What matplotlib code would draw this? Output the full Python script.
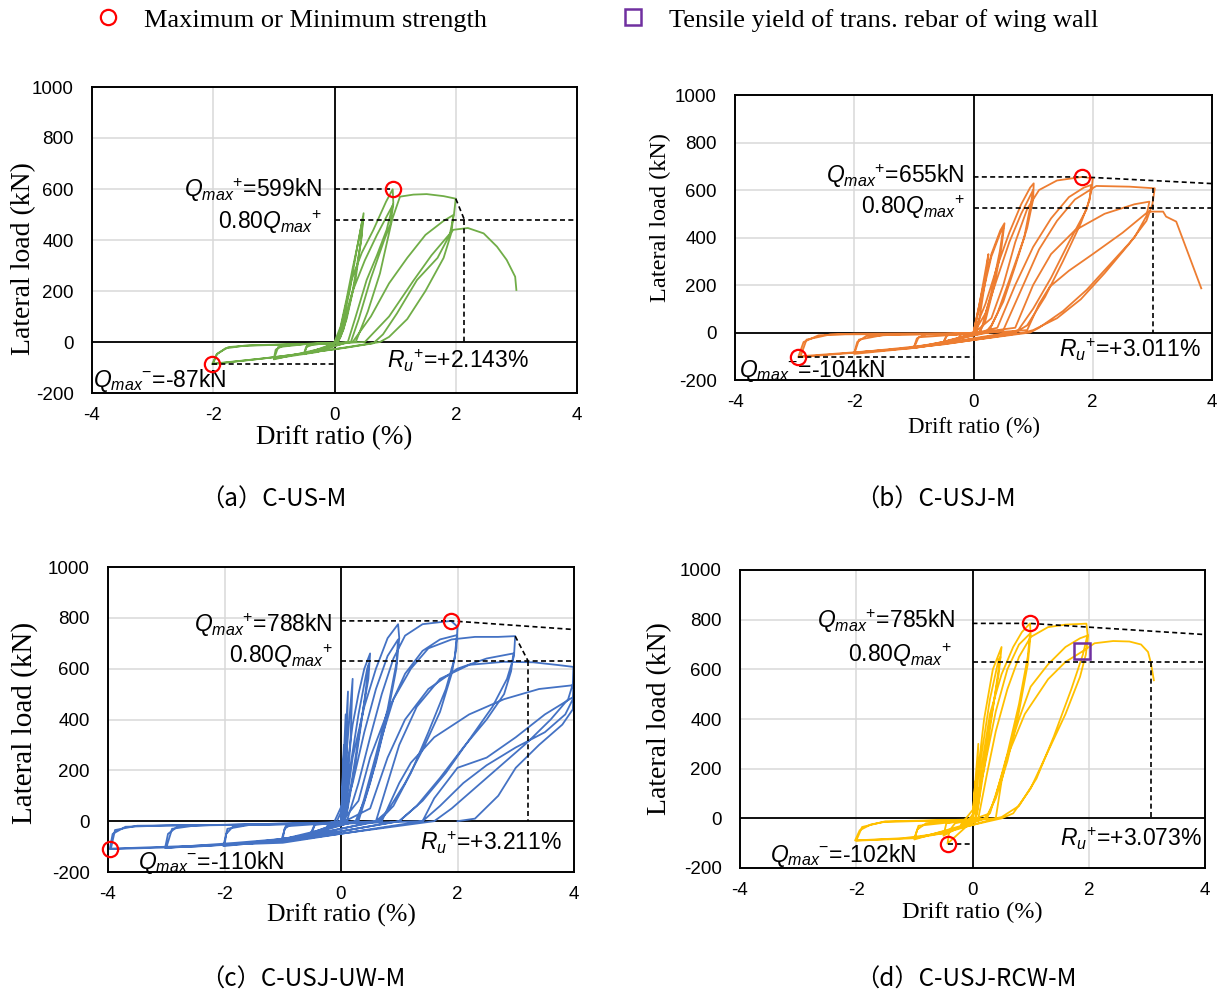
import matplotlib.pyplot as plt
from matplotlib.lines import Line2D

plt.rcParams['font.family'] = ['Liberation Sans', 'DejaVu Sans']
plt.rcParams['axes.unicode_minus'] = False
plt.rcParams['mathtext.fontset'] = 'custom'
plt.rcParams['mathtext.rm'] = 'Liberation Sans'
plt.rcParams['mathtext.it'] = 'Liberation Sans:italic'

# ---- data: drift ratio (%) / lateral load (kN) ----
drift_ticks = [-4, -2, 0, 2, 4]
load_ticks = [-200, 0, 200, 400, 600, 800, 1000]

# (a) C-US-M
a_x = [0, 0.1, 0.2, 0.3, 0.4, 0.48, 0.45, 0.35, 0.2, 0.1, 0.05, -0.2, -0.5, -0.47, -0.35, 0,
       0.1, 0.25, 0.38, 0.47, 0.44, 0.3, 0.15, 0.06, -0.5, -0.45, 0,
       0.05, 0.28, 0.45, 0.64, 0.85, 0.96, 0.97, 0.86, 0.7, 0.53, 0.35, 0.22, -0.3, -1.0, -0.97, -0.85, -0.5, 0,
       0.08, 0.3, 0.5, 0.7, 0.9, 0.97, 0.92, 0.82, 0.6, 0.4, 0.27, -1.0, -0.93, -0.5, 0,
       0.35, 0.55, 0.75, 0.95, 1.08, 1.3, 1.52, 1.8, 2.0, 1.97, 1.9, 1.7, 1.36, 1.03, 0.8, 0.64, 0.2, -0.5, -1.2, -2.0,
       -1.95, -1.8, -1.5, -0.8, 0,
       0.3, 0.6, 0.9, 1.2, 1.5, 1.8, 1.96, 1.93, 1.8, 1.5, 1.2, 0.9, 0.75, 0, -1.0, -2.02, -1.93, -1.75, -1.4, -0.8, 0,
       0.5, 0.9, 1.3, 1.6, 1.85, 1.96, 2.2, 2.46, 2.68, 2.84, 2.98, 3.0]
a_y = [0, 60, 170, 290, 400, 505, 420, 250, 90, 20, 0, -25, -45, -20, -10, -3,
       40, 200, 380, 490, 400, 200, 50, 0, -48, -12, -3,
       0, 243, 350, 439, 550, 599, 545, 440, 340, 243, 100, 0, -40, -65, -30, -15, -8, -3,
       20, 200, 320, 420, 510, 540, 460, 400, 250, 90, 0, -68, -20, -9, -4,
       0, 120, 269, 480, 570, 578, 580, 572, 562, 500, 420, 330, 243, 112, 30, -5, -22, -45, -65, -85,
       -50, -25, -15, -10, -5,
       0, 100, 230, 330, 420, 475, 498, 430, 330, 200, 90, 20, 0, -28, -60, -87, -45, -20, -13, -9, -5,
       0, 100, 240, 340, 410, 440, 447, 426, 374, 322, 256, 204]

# (b) C-USJ-M
b_x = [0, 0.1, 0.2, 0.25, 0.2, 0.1, 0.05, -0.25, -0.2, 0,
       0.15, 0.3, 0.45, 0.52, 0.47, 0.35, 0.2, 0.1, -0.5, -0.45, 0,
       0.15, 0.3, 0.45, 0.5, 0.44, 0.3, 0.15, 0.1, -0.5, -0.44, 0,
       0.2, 0.4, 0.6, 0.8, 0.95, 1.01, 1.0, 0.9, 0.7, 0.5, 0.3, 0.2, -0.4, -1.0, -0.95, -0.8, 0,
       0.2, 0.4, 0.6, 0.8, 0.98, 1.0, 0.96, 0.85, 0.6, 0.4, 0.25, -1.0, -0.92, 0,
       0.3, 0.5, 0.7, 0.9, 1.1, 1.4, 1.82, 2.0, 1.98, 1.9, 1.6, 1.3, 1.0, 0.75, 0.6, -0.5, -1.2, -2.0, -1.95, -1.8, -1.2, 0,
       0.4, 0.7, 1.0, 1.3, 1.6, 1.85, 1.97, 1.95, 1.8, 1.5, 1.2, 0.9, 0.7, -1.0, -2.0, -1.92, -1.5, 0,
       0.5, 0.8, 1.1, 1.4, 1.7, 2.06, 2.62, 3.04, 3.0, 2.9, 2.6, 2.2, 1.8, 1.4, 1.0, 0.85, -0.5, -1.5, -2.94,
       -2.85, -2.6, -2.0, 0,
       0.7, 1.0, 1.3, 1.7, 2.2, 2.7, 2.95, 2.9, 2.7, 2.3, 1.9, 1.5, 1.1, 0.95, -1.0, -2.9, -2.8, -2.4, 0,
       0.9, 1.1, 1.28, 1.6, 2.0, 2.5, 2.93, 3.18, 3.23, 3.4, 3.82]
b_y = [0, 120, 260, 330, 220, 60, 0, -22, -6, 0,
       180, 330, 430, 460, 360, 200, 50, 0, -38, -12, -2,
       160, 320, 420, 440, 340, 170, 30, 0, -40, -10, -2,
       120, 280, 420, 540, 610, 628, 560, 440, 280, 130, 30, 0, -35, -62, -25, -8, -3,
       80, 230, 380, 500, 590, 600, 540, 400, 220, 80, 0, -65, -20, -4,
       60, 200, 380, 520, 600, 640, 655, 649, 600, 520, 380, 230, 100, 10, 0, -45, -65, -85, -40, -15, -8, -5,
       20, 200, 360, 480, 570, 610, 621, 560, 460, 300, 150, 30, 0, -65, -90, -30, -10, -5,
       10, 180, 350, 470, 560, 617, 614, 607, 540, 470, 370, 250, 140, 60, 10, 0, -50, -75, -104,
       -40, -12, -5, -3,
       20, 200, 330, 430, 500, 540, 551, 490, 400, 290, 180, 90, 20, 0, -65, -100, -30, -8, -5,
       10, 120, 193, 260, 330, 420, 509, 509, 488, 467, 186]

# (c) C-USJ-UW-M
c_x = [0, 0.05, 0.03, -0.1, 0, 0.08, 0.05, -0.15, 0, 0.12, 0.08, 0.02, -0.25, -0.22, 0,
       0.2, 0.16, 0.06, -0.25, -0.2, 0,
       0.1, 0.2, 0.3, 0.4, 0.5, 0.47, 0.35, 0.2, 0.1, 0.05, -0.5, -0.45, 0,
       0.15, 0.3, 0.45, 0.48, 0.4, 0.25, 0.1, 0.06, -0.52, -0.45, 0,
       0.05, 0.2, 0.4, 0.6, 0.8, 0.98, 1.0, 0.95, 0.8, 0.6, 0.4, 0.25, -0.5, -1.0, -0.97, -0.85, 0,
       0.2, 0.4, 0.6, 0.8, 0.98, 0.95, 0.8, 0.6, 0.4, 0.28, -1.02, -0.95, 0,
       0.1, 0.3, 0.5, 0.7, 0.9, 1.1, 1.4, 1.89, 2.0, 1.98, 1.9, 1.7, 1.4, 1.1, 0.8, 0.6, -0.5, -1.2, -2.0,
       -1.97, -1.85, -1.5, 0,
       0.3, 0.5, 0.8, 1.1, 1.4, 1.7, 1.99, 1.95, 1.8, 1.5, 1.2, 0.9, 0.65, -1.0, -2.02, -1.95, -1.5, 0,
       0.3, 0.5, 0.7, 0.9, 1.2, 1.5, 1.9, 2.3, 2.7, 2.99, 2.97, 2.85, 2.6, 2.2, 1.8, 1.4, 1.0, -0.5, -1.8, -3.02,
       -2.97, -2.8, -2.2, 0,
       0.5, 0.8, 1.1, 1.5, 2.0, 2.5, 2.96, 2.92, 2.8, 2.5, 2.1, 1.7, 1.3, 1.0, -1.0, -3.0, -2.9, -2.5, 0,
       0.6, 0.8, 1.0, 1.3, 1.7, 2.2, 2.8, 3.3, 3.7, 3.99, 3.98, 3.9, 3.6, 3.2, 2.8, 2.3, 1.9, 1.6, -1.0, -2.5,
       -3.97, -3.92, -3.7, -3.0, 0,
       0.7, 1.0, 1.2, 1.6, 2.2, 2.8, 3.4, 3.99, 3.98, 3.85, 3.5, 3.0, 2.5, 2.1, 1.7, 1.4, -1.0, -3.95, -3.88,
       -3.5, 0,
       1.4, 1.6, 2.0, 2.5, 3.0, 3.5, 3.99, 3.98, 3.8, 3.4, 3.0, 2.7, 2.3, 2.0]
c_y = [0, 300, 50, -15, 0, 420, 80, -20, 0, 510, 100, 0, -30, -8, 0,
       560, 300, 0, -32, -8, -1,
       200, 380, 500, 600, 660, 560, 400, 180, 40, 0, -45, -15, -3,
       200, 420, 600, 620, 470, 230, 30, 0, -48, -12, -3,
       0, 250, 450, 600, 720, 775, 720, 600, 420, 230, 80, 0, -50, -70, -30, -12, -5,
       150, 350, 520, 650, 715, 620, 440, 260, 90, 0, -72, -20, -5,
       0, 150, 330, 500, 640, 730, 775, 788, 765, 680, 580, 430, 280, 150, 40, 0, -55, -75, -95,
       -50, -20, -12, -5,
       80, 250, 430, 580, 670, 715, 732, 640, 520, 350, 190, 60, 0, -75, -98, -30, -12, -5,
       0, 150, 330, 480, 600, 680, 715, 725, 725, 728, 650, 560, 450, 320, 190, 80, 0, -60, -85, -105,
       -50, -20, -15, -8,
       50, 250, 400, 520, 600, 640, 660, 590, 500, 400, 290, 170, 60, 0, -80, -105, -30, -17, -8,
       0, 150, 300, 450, 560, 615, 627, 625, 615, 607, 540, 480, 400, 310, 230, 130, 50, 0, -80, -100,
       -110, -50, -22, -17, -10,
       0, 150, 230, 330, 420, 480, 520, 535, 480, 420, 350, 290, 220, 150, 60, 0, -85, -108, -35,
       -18, -10,
       0, 90, 210, 250, 330, 420, 489, 440, 380, 300, 210, 100, 10, 0]

# (d) C-USJ-RCW-M
d_x = [0, 0.05, 0.02, -0.1, 0, 0.1, 0.06, -0.2, 0,
       0.1, 0.2, 0.35, 0.5, 0.45, 0.3, 0.15, 0.08, 0.05, -0.43, -0.4, -0.3, 0,
       0.15, 0.3, 0.45, 0.48, 0.4, 0.25, 0.1, 0.05, -0.5, -0.45, 0,
       0.05, 0.15, 0.3, 0.5, 0.7, 0.85, 0.99, 1.0, 0.95, 0.8, 0.6, 0.4, 0.25, 0.2, -0.5, -1.0, -0.95, -0.8, -0.5, 0,
       0.2, 0.4, 0.6, 0.8, 0.99, 0.95, 0.8, 0.6, 0.4, 0.25, -1.0, -0.93, 0,
       0.1, 0.25, 0.4, 0.6, 0.8, 1.0, 1.3, 1.6, 1.96, 1.98, 1.9, 1.7, 1.4, 1.1, 0.8, 0.5, 0.4, -0.5, -1.2, -2.02,
       -1.94, -1.75, -1.53, -0.8, 0,
       0.3, 0.53, 0.59, 0.8, 1.0, 1.3, 1.6, 1.85, 1.99, 1.95, 1.85, 1.6, 1.3, 1.0, 0.7, 0.5, -1.0, -2.0, -1.9,
       -1.5, 0,
       0.4, 0.5, 0.6, 0.9, 1.3, 1.6, 1.89, 2.1, 2.42, 2.7, 2.9, 3.02, 3.07, 3.12]
d_y = [0, 150, 20, -15, 0, 300, 50, -25, 0,
       200, 400, 600, 690, 580, 380, 150, 20, 0, -102, -50, -20, -5,
       250, 480, 640, 650, 520, 280, 50, 0, -70, -20, -5,
       0, 200, 420, 580, 690, 750, 785, 740, 620, 430, 230, 80, 10, 0, -60, -80, -45, -20, -12, -5,
       200, 430, 600, 700, 744, 650, 460, 260, 90, 0, -85, -30, -6,
       0, 180, 350, 520, 650, 730, 770, 780, 784, 740, 660, 520, 330, 160, 50, 5, 0, -60, -80, -89,
       -48, -25, -15, -10, -5,
       20, 193, 247, 400, 530, 620, 690, 725, 737, 660, 570, 420, 270, 120, 20, 0, -80, -90, -35,
       -12, -5,
       0, 150, 250, 420, 560, 630, 672, 705, 714, 712, 700, 670, 625, 556]

# characteristic points: (drift, load)
a_qmax, a_qmin, a_ru, a_drop = (0.96, 599), (-2.02, -87), 2.143, (2.0, 562)
b_qmax, b_qmin, b_ru, b_drop = (1.82, 655), (-2.94, -104), 3.011, (3.011, 607)
c_qmax, c_qmin, c_ru, c_drop = (1.89, 788), (-3.97, -110), 3.211, (2.99, 728)
d_qmax, d_qmin, d_ru, d_drop = (0.99, 785), (-0.43, -102), 3.073, (3.073, 628)
b_env_end = (4.0, 627)
c_env_end = (4.0, 754)
d_env_end = (4.0, 740)
d_yield = (1.89, 672)

W, H = 1228, 996
fig = plt.figure(figsize=(W / 100, H / 100), dpi=100)


def axes_px(l, t, r, b):
    return fig.add_axes([l / W, 1 - b / H, (r - l) / W, (b - t) / H])


def base(ax, ylab_size, xlab_size, ylab_pos, xlab_pos):
    ax.set_xlim(-4, 4)
    ax.set_ylim(-200, 1000)
    ax.set_xticks(drift_ticks)
    ax.set_yticks(load_ticks)
    ax.grid(True, color='#d9d9d9', lw=1.1)
    ax.set_axisbelow(True)
    ax.axhline(0, color='black', lw=1.3, zorder=1.5)
    ax.axvline(0, color='black', lw=1.3, zorder=1.5)
    for s in ax.spines.values():
        s.set_linewidth(1.4)
    ax.tick_params(length=0, labelsize=13.5)
    ax.tick_params(axis='y', pad=13)
    ax.tick_params(axis='x', pad=10)
    ax.set_ylabel('Lateral load (kN)', family='Liberation Serif', fontsize=ylab_size)
    ax.set_xlabel('Drift ratio (%)', family='Liberation Serif', fontsize=xlab_size)
    ax.yaxis.set_label_coords(*ylab_pos)
    ax.xaxis.set_label_coords(*xlab_pos)


def dashed(ax, xs, ys):
    ax.plot(xs, ys, color='black', lw=1.2, ls=(0, (3, 2)), zorder=3)


def circle(ax, pt):
    ax.plot(pt[0], pt[1], 'o', mfc='none', mec='red', ms=11, mew=1.6, zorder=5, clip_on=False)


def note(ax, x, y, s, ha='left'):
    ax.text(x, y, s, fontsize=16.5, ha=ha, va='center')


qp = r'$Q_{max}{}^{+}$'
qm = r'$Q_{max}{}^{-}$'
ru = r'$R_{u}{}^{+}$'

# ---- (a) ----
ax = axes_px(92, 87, 577, 393)
base(ax, 20, 19.5, (-0.115, 0.44), (0.5, -0.105))
ax.plot(a_x, a_y, color='#70ad47', lw=1.3, zorder=2)
dashed(ax, [0, a_qmax[0]], [a_qmax[1], a_qmax[1]])
dashed(ax, [0, 4], [0.8 * a_qmax[1]] * 2)
dashed(ax, [a_drop[0], a_ru], [a_drop[1], 0.8 * a_qmax[1]])
dashed(ax, [a_ru, a_ru], [0.8 * a_qmax[1], 0])
dashed(ax, [a_qmin[0], 0], [a_qmin[1], a_qmin[1]])
circle(ax, a_qmax)
circle(ax, a_qmin)
note(ax, -0.2, 596, qp + '=599kN', 'right')
note(ax, -0.2, 470, '0.80' + qp, 'right')
note(ax, -3.98, -150, qm + '=-87kN')
note(ax, 0.87, -72, ru + '=+2.143%')

# ---- (b) ----
ax = axes_px(735, 95, 1212, 380)
base(ax, 17.5, 16.5, (-0.135, 0.57), (0.5, -0.13))
ax.plot(b_x, b_y, color='#ed7d31', lw=1.3, zorder=2)
dashed(ax, [0, b_qmax[0], b_env_end[0]], [b_qmax[1], b_qmax[1], b_env_end[1]])
dashed(ax, [0, 4], [0.8 * b_qmax[1]] * 2)
dashed(ax, [b_ru, b_ru], [b_drop[1], 0])
dashed(ax, [b_qmin[0], 0], [b_qmin[1], b_qmin[1]])
circle(ax, b_qmax)
circle(ax, b_qmin)
note(ax, -0.15, 658, qp + '=655kN', 'right')
note(ax, -0.15, 528, '0.80' + qp, 'right')
note(ax, -3.93, -158, qm + '=-104kN')
note(ax, 1.44, -74, ru + '=+3.011%')

# ---- (c) ----
ax = axes_px(108, 567, 574, 872)
base(ax, 21, 18.5, (-0.15, 0.49), (0.5, -0.105))
ax.plot(c_x, c_y, color='#4472c4', lw=1.3, zorder=2)
dashed(ax, [0, c_qmax[0], c_env_end[0]], [c_qmax[1], c_qmax[1], c_env_end[1]])
dashed(ax, [0, 4], [0.8 * c_qmax[1]] * 2)
dashed(ax, [c_drop[0], c_ru], [c_drop[1], 0.8 * c_qmax[1]])
dashed(ax, [c_ru, c_ru], [0.8 * c_qmax[1], 0])
circle(ax, c_qmax)
circle(ax, c_qmin)
note(ax, -0.14, 772, qp + '=788kN', 'right')
note(ax, -0.14, 650, '0.80' + qp, 'right')
note(ax, -3.48, -161, qm + '=-110kN')
note(ax, 1.36, -83, ru + '=+3.211%')

# ---- (d) ----
ax = axes_px(740, 570, 1205, 868)
base(ax, 20, 17.5, (-0.145, 0.5), (0.5, -0.115))
ax.plot(d_x, d_y, color='#ffc000', lw=1.3, zorder=2)
dashed(ax, [0, d_qmax[0], d_env_end[0]], [d_qmax[1], d_qmax[1], d_env_end[1]])
dashed(ax, [0, 4], [0.8 * d_qmax[1]] * 2)
dashed(ax, [d_ru, d_ru], [d_drop[1], 0])
dashed(ax, [d_qmin[0], 0], [d_qmin[1], d_qmin[1]])
circle(ax, d_qmax)
circle(ax, d_qmin)
ax.plot(d_yield[0], d_yield[1], 's', mfc='none', mec='#7030a0', ms=11, mew=1.8, zorder=5)
note(ax, -0.3, 793, qp + '=785kN', 'right')
note(ax, -0.35, 656, '0.80' + qp, 'right')
note(ax, -3.49, -149, qm + '=-102kN')
note(ax, 1.5, -80, ru + '=+3.073%')

# ---- captions ----
cap_font = ['Noto Sans CJK JP', 'DejaVu Sans']
captions = ['（a）C-US-M', '（b）C-USJ-M', '（c）C-USJ-UW-M', '（d）C-USJ-RCW-M']
cap_pos = [(200, 500), (855, 500), (200, 980), (855, 980)]
for s, (px, py) in zip(captions, cap_pos):
    fig.text(px / W, 1 - py / H, s, family=cap_font, fontsize=17.5, ha='left', va='center')

# ---- legend ----
handles = [Line2D([], [], ls='none', marker='o', mfc='none', mec='red', ms=11, mew=1.6),
           Line2D([], [], ls='none', marker='s', mfc='none', mec='#7030a0', ms=11, mew=1.8)]
fig.legend(handles, ['Maximum or Minimum strength', 'Tensile yield of trans. rebar of wing wall'],
           loc='center left', bbox_to_anchor=(95 / W, 1 - 20 / H), ncol=2, frameon=False,
           prop={'family': 'Liberation Serif', 'size': 19}, handlelength=1.0,
           handletextpad=0.85, columnspacing=5.05, borderpad=0, borderaxespad=0)

fig.savefig('out.png', dpi=100)
